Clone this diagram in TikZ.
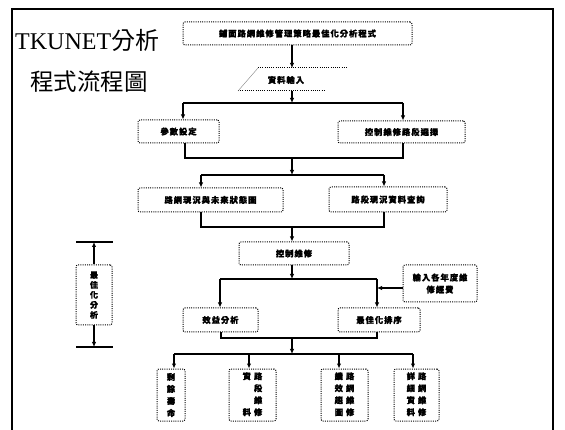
\documentclass[tikz,border=0pt]{standalone}
\usepackage{fontspec}
\setmainfont{Liberation Serif}
\newfontfamily\cjk{Noto Sans CJK TC}
\newfontfamily\cjkb{Noto Sans CJK TC}[LetterSpace=12, FakeBold=1.2]
\newfontfamily\cjkv{Noto Sans CJK TC}[FakeBold=1.2]
\usetikzlibrary{arrows.meta,calc}
\begin{document}
\begin{tikzpicture}[x=1pt,y=-1pt,
  dots/.style={line width=1pt, dash pattern=on 1pt off 1.2pt},
  box/.style={draw, dots, rounded corners=2pt, inner sep=0pt,
    font=\cjkb\bfseries\fontsize{8.3}{12}\selectfont},
  vbox/.style={box, align=center, font=\cjkv\bfseries\fontsize{8.3}{12}\selectfont},
  conn/.style={line width=1.3pt},
  arr/.style={conn, -{Latex[length=5pt,width=4.5pt]}},
  frame/.style={line width=1.3pt}
]
\useasboundingbox (0,0) rectangle (565,430);
% frame
\draw[frame] (12,432) -- (12,9) -- (553,9) -- (553,432);
\draw[line width=2.6pt] (12,9) -- (553,9);

% title
\node[anchor=base west, inner sep=0pt, font=\fontsize{24}{28}\selectfont] (t1) at (15,50) {TKUNET{\cjk 分析}};
\node[anchor=base west, inner sep=0pt, font=\cjk\fontsize{23.5}{26}\selectfont] (t2) at (30,91) {程式流程圖};

% spine
\coordinate (sp) at (292,0);

% nodes
\node[box, minimum width=229pt, minimum height=23pt] (top) at (297.5,33.5) {鋪面路網維修管理策略最佳化分析程式};

\coordinate (p1) at (258,68);
\coordinate (p2) at (347,68);
\coordinate (p3) at (324,91);
\coordinate (p4) at (238,91);
\node[inner sep=0pt, font=\cjkb\bfseries\fontsize{8.3}{12}\selectfont] (input) at (286,80) {資料輸入};
\draw[dots] (p1) -- (p2);
\draw[dots] (p4) -- (p3);
\draw[line width=0.4pt, gray] (p4) -- (p1);

\node[box, minimum width=81pt, minimum height=23pt] (param) at (178.5,131.5) {參數設定};
\node[box, minimum width=127pt, minimum height=22pt] (select) at (401.5,132) {控制維修路段選擇};
\node[box, minimum width=145pt, minimum height=24pt] (netmap) at (210.5,200) {路網現況與未來狀態圖};
\node[box, minimum width=118pt, minimum height=25pt] (query) at (388,199.5) {路段現況資料查詢};
\node[box, minimum width=110pt, minimum height=23pt] (ctrl) at (294,253.5) {控制維修};
\node[box, minimum width=74pt, minimum height=37pt, align=center] (budget) at (440,283.5) {輸入各年度維\\修經費};
\node[box, minimum width=75pt, minimum height=24pt] (benefit) at (220.5,320) {效益分析};
\node[box, minimum width=82pt, minimum height=24pt] (rank) at (379,320) {最佳化排序};

\node[vbox, minimum width=28pt, minimum height=52pt] (o1) at (171,395) {剩\\餘\\壽\\命};
\node[vbox, minimum width=47pt, minimum height=52pt] (o2) at (252.5,395)
  {\begin{tabular}{@{}c@{\hspace{3pt}}c@{}}資&路\\&段\\&維\\料&修\end{tabular}};
\node[vbox, minimum width=47pt, minimum height=52pt] (o3) at (344.5,395)
  {\begin{tabular}{@{}c@{\hspace{3pt}}c@{}}績&路\\效&網\\趨&維\\圖&修\end{tabular}};
\node[vbox, minimum width=45pt, minimum height=52pt] (o4) at (416.5,395)
  {\begin{tabular}{@{}c@{\hspace{3pt}}c@{}}詳&路\\細&網\\資&維\\料&修\end{tabular}};

\node[vbox, minimum width=36pt, minimum height=60pt, font=\cjkv\bfseries\fontsize{8}{10}\selectfont] (opt) at (94,295) {最\\佳\\化\\分\\析};

% connectors
\draw[arr] (top.south -| sp) -- (sp |- p1);

\coordinate (b1l) at (183,103);
\coordinate (b1r) at (403,103);
\draw[arr] (sp |- p4) -- (sp |- b1l);
\draw[conn] (b1l) -- (b1r);
\draw[arr] (b1l) -- (b1l |- param.north);
\draw[arr] (b1r) -- (b1r |- select.north);

\coordinate (b2l) at (185,158);
\coordinate (b2r) at (403,158);
\draw[conn] (param.south -| b2l) -- (b2l) -- (b2r) -- (select.south -| b2r);

\coordinate (b3l) at (201,175);
\coordinate (b3r) at (384,175);
\draw[arr] (sp |- b2l) -- (sp |- b3l);
\draw[conn] (b3l) -- (b3r);
\draw[arr] (b3l) -- (b3l |- netmap.north);
\draw[arr] (b3r) -- (b3r |- query.north);

\coordinate (b4l) at (201,227);
\coordinate (b4r) at (384,227);
\draw[conn] (netmap.south -| b4l) -- (b4l) -- (b4r) -- (query.south -| b4r);
\draw[arr] (sp |- b4l) -- (sp |- ctrl.north);

\coordinate (b5l) at (220,279);
\coordinate (b5r) at (377,279);
\draw[arr] (sp |- ctrl.south) -- (sp |- b5l);
\draw[conn] (b5l) -- (b5r);
\draw[arr] (b5l) -- (b5l |- benefit.north);
\draw[arr] (b5r) -- (b5r |- rank.north);
\coordinate (ba) at (403,288);
\draw[arr] (budget.west |- ba) -- (b5r |- ba);

\coordinate (b6l) at (221,338);
\coordinate (b6r) at (377,338);
\draw[conn] (benefit.south -| b6l) -- (b6l) -- (b6r) -- (rank.south -| b6r);

\coordinate (b7l) at (174,354);
\coordinate (b7r) at (413,354);
\coordinate (b7a) at (249,354);
\coordinate (b7b) at (339,354);
\draw[arr] (sp |- b6l) -- (sp |- b7l);
\draw[conn] (b7l) -- (b7r);
\draw[arr] (b7l) -- (b7l |- o1.north);
\draw[arr] (b7a) -- (b7a |- o2.north);
\draw[arr] (b7b) -- (b7b |- o3.north);
\draw[arr] (b7r) -- (b7r |- o4.north);

% left measure
\coordinate (lt1) at (76,242);
\coordinate (lt2) at (113,242);
\coordinate (lb1) at (76,347);
\coordinate (lb2) at (113,347);
\draw[conn] (lt1) -- (lt2);
\draw[conn] (lb1) -- (lb2);
\draw[arr] (opt.north) -- (opt.north |- lt1);
\draw[arr] (opt.south) -- (opt.south |- lb1);
\end{tikzpicture}
\end{document}
